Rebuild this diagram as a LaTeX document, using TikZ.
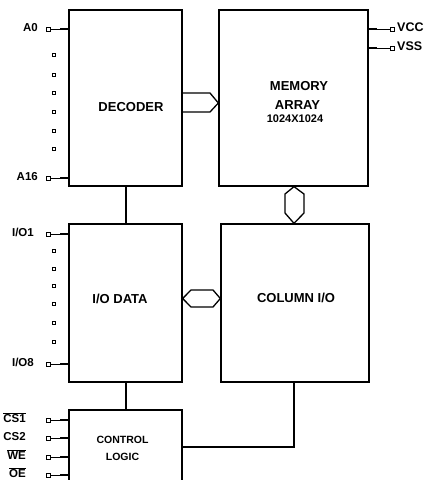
\documentclass[tikz,border=0pt]{standalone}
\usepackage{fontspec}
\setsansfont{Liberation Sans}
\usetikzlibrary{positioning, calc}

\begin{document}
\begin{tikzpicture}[x=1pt, y=-1pt,
    blk/.style={draw, line width=1.3pt, inner sep=0pt},
    lbl/.style={font=\sffamily\bfseries\fontsize{13}{15}\selectfont, align=center, inner sep=0pt},
    pinlbl/.style={font=\sffamily\bfseries\fontsize{11.5}{12}\selectfont, anchor=mid east, inner sep=0pt},
    sq/.style={draw, line width=0.7pt, minimum size=4pt, inner sep=0pt},
    dotsq/.style={draw, line width=0.7pt, minimum size=3.5pt, inner sep=0pt},
    wire/.style={line width=1.3pt},
    pinwire/.style={line width=0.8pt},
    stub/.style={line width=2.2pt}]
  \useasboundingbox (0,0) rectangle (428,480);
  \clip (0,0) rectangle (428,480);

  % blocks
  \node[blk, minimum width=113pt, minimum height=176pt] (dec) at (125.5,98) {};
  \node[blk, minimum width=149pt, minimum height=176pt] (mem) at (293.5,98) {};
  \node[blk, minimum width=113pt, minimum height=158pt] (iod) at (125.5,303) {};
  \node[blk, minimum width=148pt, minimum height=158pt] (col) at (295,303) {};
  \node[blk, minimum width=113pt, minimum height=74pt] (ctl) at (125.5,447) {};

  \node[lbl] (dectxt) at (131,107) {DECODER};
  \node[lbl] (memtxt) at (299,86) {MEMORY};
  \node[lbl] (arrtxt) at (297.5,105) {ARRAY};
  \node[lbl, font=\sffamily\bfseries\fontsize{11}{12}\selectfont] (sizetxt) at (295,119) {1024X1024};
  \node[lbl] (iodtxt) at (120,299) {I/O DATA};
  \node[lbl] (coltxt) at (296,298) {COLUMN I/O};
  \node[lbl, font=\sffamily\bfseries\fontsize{10.5}{17}\selectfont] (ctltxt) at (122.5,448.5) {CONTROL\\LOGIC};

  % buses
  \draw[wire] (dec.east |- 0,93) -- (210,93) -- (mem.west |- 0,103) -- (210,112) -- (dec.east |- 0,112);
  \draw[wire] (mem.south -| 294,0) -- (285,194) -- (285,213) -- (col.north -| 294,0) -- (304,213) -- (304,194) -- cycle;
  \draw[wire] (iod.east |- 0,298.5) -- (191,290) -- (213,290) -- (col.west |- 0,298.5) -- (213,307) -- (191,307) -- cycle;

  \draw[wire] (dec.south -| 126,0) -- (iod.north -| 126,0);
  \draw[wire] (iod.south -| 126,0) -- (ctl.north -| 126,0);
  \draw[wire] (col.south -| 294,0) |- (ctl.east |- 0,447);

  % pins
  \foreach \nm/\yy/\lx/\bx/\txt in {a0/29/38/dec/A0, a16/178/38/dec/A16,
      io1/234/34/iod/{I/O1}, io8/364/34/iod/{I/O8},
      cs1/420/26/ctl/{$\overline{\mbox{CS1}}$}, cs2/438/26/ctl/CS2,
      we/457/26/ctl/{$\overline{\mbox{WE}}$}, oe/475/26/ctl/{$\overline{\mbox{OE}}$}} {
    \node[sq] (\nm) at (48,\yy) {};
    \node[pinlbl] (\nm txt) at (\lx,\yy) {\txt};
    \draw[pinwire] (\nm.east) -- (\nm.east -| \bx.west);
    \draw[stub] ($(\nm.east -| \bx.west)+(-8,0)$) -- (\nm.east -| \bx.west);
  }
  \foreach \yy in {55,75,93,112,131,149,251,269,286,304,323,342}
    \node[dotsq] (dot\yy) at (54,\yy) {};

  \foreach \nm/\yy/\txt in {vcc/29/VCC, vss/48/VSS} {
    \node[sq] (\nm) at (392,\yy) {};
    \node[pinlbl, font=\sffamily\bfseries\fontsize{12.5}{13}\selectfont, anchor=mid west] (\nm txt) at (397,\yy) {\txt};
    \draw[pinwire] (\nm.west) -- (\nm.west -| mem.east);
    \draw[stub] (\nm.west -| mem.east) -- ($(\nm.west -| mem.east)+(8,0)$);
  }
\end{tikzpicture}
\end{document}
